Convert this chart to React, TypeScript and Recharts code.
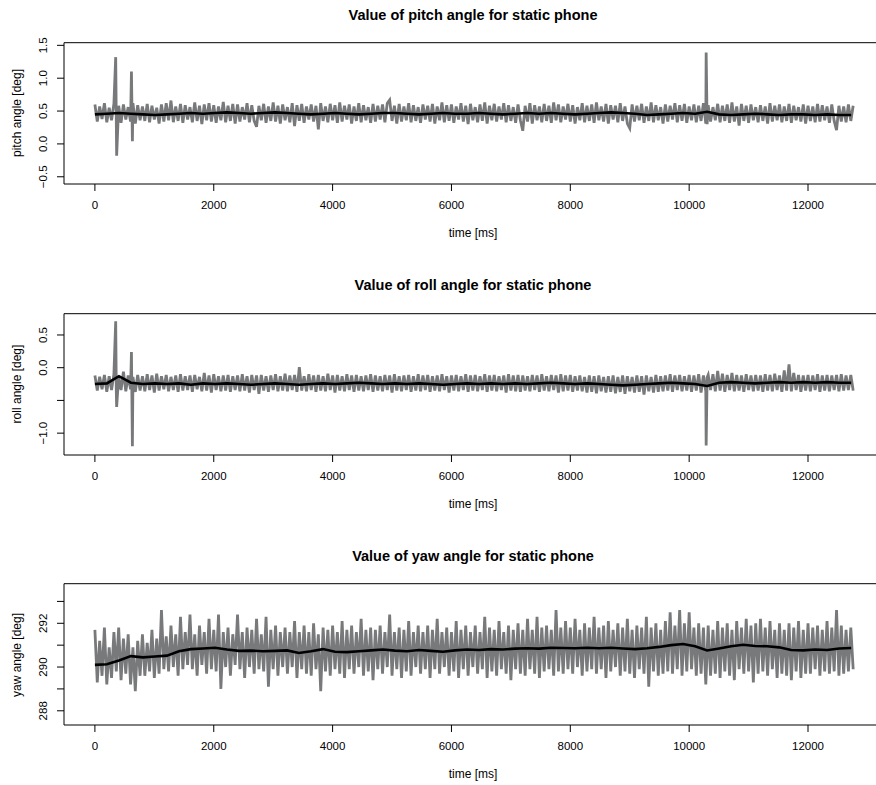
import React from "react";
import { LineChart, Line, XAxis, YAxis, ReferenceArea } from "recharts";

const FONT = '"Liberation Sans", Arial, Helvetica, sans-serif';
const GRAY = "#77797b";

// sample spacing of the hand-read points (ms)
const RAW_STEP = 40;
const SMOOTH_STEP = 202;
const X_TICKS = [0, 2000, 4000, 6000, 8000, 10000, 12000];
const X_DOMAIN = [-520, 13245];

// pitch
const pitchRaw = [
  0.60, 0.34, 0.57, 0.38, 0.62, 0.33, 0.55, 0.36, 0.61, 0.35,
  0.58, 0.32, 0.60, 0.37, 0.56, 0.34, 0.62, 0.31, 0.59, 0.36,
  0.57, 0.35, 0.61, 0.33, 0.58, 0.37, 0.55, 0.31, 0.60, 0.34,
  0.62, 0.36, 0.66, 0.33, 0.57, 0.35, 0.61, 0.32, 0.59, 0.37,
  0.56, 0.33, 0.63, 0.35, 0.58, 0.30, 0.60, 0.36, 0.62, 0.34,
  0.59, 0.32, 0.57, 0.36, 0.64, 0.33, 0.58, 0.35, 0.61, 0.31,
  0.60, 0.34, 0.56, 0.37, 0.62, 0.33, 0.59, 0.35, 0.26, 0.58,
  0.36, 0.61, 0.32, 0.57, 0.35, 0.63, 0.34, 0.58, 0.31, 0.60,
  0.36, 0.56, 0.33, 0.62, 0.27, 0.59, 0.35, 0.61, 0.32, 0.57,
  0.37, 0.60, 0.34, 0.58, 0.22, 0.62, 0.35, 0.57, 0.33, 0.61,
  0.36, 0.59, 0.32, 0.63, 0.34, 0.58, 0.37, 0.60, 0.31, 0.57,
  0.35, 0.62, 0.33, 0.59, 0.36, 0.56, 0.32, 0.61, 0.34, 0.58,
  0.37, 0.60, 0.33, 0.62, 0.67, 0.35, 0.58, 0.31, 0.61, 0.34,
  0.57, 0.36, 0.62, 0.33, 0.59, 0.35, 0.56, 0.32, 0.60, 0.37,
  0.58, 0.34, 0.61, 0.31, 0.57, 0.36, 0.63, 0.33, 0.59, 0.35,
  0.60, 0.32, 0.57, 0.37, 0.62, 0.34, 0.58, 0.30, 0.61, 0.36,
  0.56, 0.33, 0.60, 0.35, 0.63, 0.31, 0.58, 0.36, 0.61, 0.34,
  0.57, 0.37, 0.62, 0.33, 0.59, 0.35, 0.56, 0.32, 0.60, 0.36,
  0.20, 0.58, 0.34, 0.62, 0.31, 0.59, 0.36, 0.57, 0.33, 0.61,
  0.35, 0.58, 0.32, 0.63, 0.36, 0.60, 0.33, 0.57, 0.37, 0.61,
  0.34, 0.59, 0.31, 0.56, 0.36, 0.62, 0.33, 0.58, 0.35, 0.60,
  0.32, 0.63, 0.36, 0.57, 0.34, 0.61, 0.31, 0.59, 0.37, 0.58,
  0.33, 0.62, 0.35, 0.57, 0.31, 0.24, 0.60, 0.34, 0.58, 0.36,
  0.61, 0.32, 0.57, 0.35, 0.63, 0.33, 0.59, 0.36, 0.56, 0.31,
  0.60, 0.34, 0.58, 0.37, 0.62, 0.33, 0.59, 0.35, 0.61, 0.32,
  0.57, 0.36, 0.60, 0.33, 0.58, 0.35, 0.62, 0.31, 0.59, 0.34,
  0.56, 0.36, 0.61, 0.33, 0.58, 0.35, 0.60, 0.32, 0.63, 0.34,
  0.57, 0.28, 0.61, 0.35, 0.58, 0.32, 0.60, 0.36, 0.56, 0.33,
  0.59, 0.35, 0.57, 0.31, 0.62, 0.34, 0.58, 0.36, 0.60, 0.33,
  0.57, 0.35, 0.61, 0.32, 0.58, 0.36, 0.56, 0.34, 0.60, 0.31,
  0.58, 0.35, 0.57, 0.33, 0.61, 0.34, 0.59, 0.36, 0.57, 0.32,
  0.60, 0.35, 0.21, 0.58, 0.34, 0.57, 0.33, 0.60, 0.35, 0.58,
];
const pitchSpikes = [
  { t: 350, v: 1.32 }, { t: 366, v: -0.18 },
  { t: 615, v: 1.1 }, { t: 631, v: 0.04 },
  { t: 10286, v: 1.39 }, { t: 10302, v: 0.3 },
];
const pitchSmooth = [
  0.45, 0.46, 0.47, 0.46, 0.45, 0.44, 0.45, 0.46, 0.47, 0.46,
  0.47, 0.48, 0.47, 0.46, 0.47, 0.48, 0.47, 0.46, 0.45, 0.46,
  0.47, 0.46, 0.45, 0.46, 0.47, 0.47, 0.46, 0.45, 0.46, 0.47,
  0.46, 0.46, 0.47, 0.46, 0.45, 0.46, 0.47, 0.46, 0.47, 0.46,
  0.45, 0.46, 0.47, 0.48, 0.47, 0.46, 0.44, 0.45, 0.46, 0.47,
  0.46, 0.49, 0.45, 0.44, 0.45, 0.46, 0.45, 0.44, 0.45, 0.45,
  0.44, 0.45, 0.44, 0.44,
];
const pitchTicks = [-0.5, 0, 0.5, 1, 1.5];
const pitchTickLabels = ["\u22120.5", "0.0", "0.5", "1.0", "1.5"];

// roll
const rollRaw = [
  -0.12, -0.35, -0.14, -0.33, -0.11, -0.37, -0.13, -0.34, -0.10, -0.36,
  -0.13, -0.34, -0.06, -0.36, -0.12, -0.33, -0.14, -0.37, -0.11, -0.35,
  -0.13, -0.36, -0.10, -0.34, -0.12, -0.38, -0.09, -0.35, -0.13, -0.33,
  -0.11, -0.36, -0.14, -0.34, -0.12, -0.37, -0.10, -0.35, -0.13, -0.34,
  -0.12, -0.37, -0.11, -0.33, -0.14, -0.36, -0.08, -0.35, -0.12, -0.38,
  -0.10, -0.34, -0.13, -0.36, -0.12, -0.35, -0.11, -0.37, -0.13, -0.34,
  -0.12, -0.36, -0.10, -0.35, -0.13, -0.38, -0.11, -0.34, -0.12, -0.40,
  -0.11, -0.35, -0.13, -0.37, -0.12, -0.34, -0.10, -0.36, -0.13, -0.35,
  -0.09, -0.36, -0.12, -0.34, -0.11, -0.37, 0.01, -0.35, -0.13, -0.36,
  -0.10, -0.34, -0.12, -0.37, -0.11, -0.35, -0.13, -0.36, -0.09, -0.34,
  -0.12, -0.38, -0.11, -0.35, -0.13, -0.36, -0.10, -0.34, -0.12, -0.37,
  -0.11, -0.35, -0.13, -0.36, -0.12, -0.34, -0.10, -0.37, -0.12, -0.35,
  -0.13, -0.36, -0.11, -0.34, -0.12, -0.38, -0.10, -0.35, -0.13, -0.36,
  -0.12, -0.34, -0.11, -0.37, -0.13, -0.35, -0.10, -0.36, -0.12, -0.34,
  -0.11, -0.37, -0.13, -0.35, -0.12, -0.36, -0.10, -0.34, -0.13, -0.38,
  -0.12, -0.35, -0.11, -0.36, -0.13, -0.34, -0.10, -0.37, -0.12, -0.35,
  -0.11, -0.36, -0.13, -0.34, -0.10, -0.37, -0.12, -0.35, -0.11, -0.36,
  -0.13, -0.34, -0.12, -0.38, -0.10, -0.35, -0.12, -0.36, -0.11, -0.37,
  -0.12, -0.35, -0.13, -0.36, -0.11, -0.34, -0.12, -0.37, -0.10, -0.35,
  -0.13, -0.36, -0.11, -0.34, -0.12, -0.38, -0.10, -0.36, -0.12, -0.35,
  -0.11, -0.37, -0.13, -0.35, -0.12, -0.36, -0.14, -0.38, -0.12, -0.37,
  -0.13, -0.39, -0.12, -0.36, -0.14, -0.38, -0.13, -0.37, -0.12, -0.39,
  -0.14, -0.37, -0.12, -0.40, -0.13, -0.36, -0.14, -0.38, -0.12, -0.37,
  -0.13, -0.41, -0.12, -0.36, -0.14, -0.38, -0.11, -0.37, -0.13, -0.36,
  -0.12, -0.35, -0.10, -0.37, -0.12, -0.34, -0.11, -0.36, -0.13, -0.35,
  -0.11, -0.37, -0.12, -0.35, -0.10, -0.38, -0.12, -0.36, -0.11, -0.34,
  -0.10, -0.36, -0.05, -0.35, -0.09, -0.37, -0.11, -0.34, -0.08, -0.36,
  -0.11, -0.35, -0.12, -0.37, -0.10, -0.34, -0.12, -0.36, -0.11, -0.35,
  -0.12, -0.37, -0.10, -0.35, -0.11, -0.36, -0.09, -0.34, -0.12, -0.37,
  -0.04, -0.35, 0.05, -0.36, -0.08, -0.34, -0.11, -0.37, -0.12, -0.35,
  -0.11, -0.36, -0.12, -0.34, -0.10, -0.37, -0.12, -0.35, -0.11, -0.36,
  -0.12, -0.34, -0.11, -0.36, -0.10, -0.35, -0.12, -0.34, -0.11, -0.35,
];
const rollSpikes = [
  { t: 350, v: 0.71 }, { t: 366, v: -0.6 },
  { t: 615, v: 0.24 }, { t: 631, v: -1.2 },
  { t: 10286, v: -1.19 }, { t: 10302, v: -0.15 },
];
const rollSmooth = [
  -0.25, -0.24, -0.13, -0.23, -0.25, -0.24, -0.25, -0.24, -0.26, -0.24,
  -0.25, -0.24, -0.25, -0.26, -0.25, -0.24, -0.25, -0.26, -0.25, -0.24,
  -0.25, -0.24, -0.23, -0.24, -0.25, -0.24, -0.25, -0.24, -0.25, -0.26,
  -0.25, -0.24, -0.25, -0.24, -0.25, -0.24, -0.25, -0.24, -0.23, -0.24,
  -0.25, -0.24, -0.25, -0.26, -0.27, -0.26, -0.25, -0.24, -0.23, -0.24,
  -0.25, -0.28, -0.23, -0.22, -0.23, -0.24, -0.23, -0.22, -0.23, -0.22,
  -0.23, -0.22, -0.23, -0.23,
];
const rollTicks = [-1, -0.5, 0, 0.5];
const rollTickLabels = ["\u22121.0", "", "0.0", "0.5"];

// yaw
const yawRaw = [
  291.7, 289.3, 291.2, 289.6, 291.8, 289.2, 290.9, 289.5, 291.6, 289.8,
  291.8, 289.4, 291.3, 289.7, 291.5, 289.2, 290.9, 288.9, 291.2, 289.6,
  291.5, 289.6, 291.1, 289.8, 291.7, 289.5, 291.3, 289.7, 292.6, 289.9,
  291.4, 289.8, 291.9, 290.0, 291.5, 289.6, 292.3, 289.9, 291.6, 290.1,
  292.4, 289.9, 291.5, 289.6, 291.9, 290.1, 291.6, 289.7, 292.2, 289.9,
  291.7, 289.8, 292.4, 289.0, 291.6, 290.0, 291.8, 289.6, 291.5, 290.1,
  292.4, 289.9, 291.6, 289.5, 291.8, 290.0, 291.7, 289.7, 292.2, 289.9,
  291.5, 289.8, 292.3, 289.1, 291.7, 289.9, 291.9, 289.6, 291.6, 290.0,
  291.8, 289.7, 291.6, 290.0, 292.1, 289.5, 291.6, 289.9, 291.9, 289.7,
  291.6, 289.6, 292.0, 289.9, 291.5, 288.9, 291.8, 289.8, 291.7, 289.6,
  291.9, 289.9, 291.6, 289.7, 292.1, 289.5, 291.7, 289.9, 291.9, 289.7,
  291.6, 290.0, 292.2, 289.6, 291.7, 289.8, 291.8, 289.4, 291.7, 289.9,
  291.9, 289.7, 291.6, 290.0, 292.4, 289.6, 291.6, 289.9, 291.8, 289.5,
  291.7, 289.8, 292.1, 289.6, 291.6, 290.0, 291.9, 289.7, 291.6, 289.9,
  291.9, 289.5, 291.7, 289.9, 292.2, 289.7, 291.6, 290.0, 291.8, 289.6,
  291.6, 289.8, 292.1, 289.5, 291.7, 289.9, 291.9, 289.6, 291.6, 290.0,
  291.9, 289.7, 291.6, 289.9, 292.3, 289.5, 291.8, 289.8, 291.7, 289.6,
  292.1, 289.9, 291.6, 289.7, 291.9, 289.4, 291.7, 289.9, 292.0, 289.7,
  291.7, 289.6, 292.2, 289.9, 291.7, 289.7, 292.3, 289.5, 291.8, 289.8,
  291.9, 289.9, 291.7, 289.6, 292.6, 289.8, 291.8, 289.7, 292.1, 289.9,
  291.8, 289.7, 292.2, 290.0, 291.7, 289.6, 292.0, 289.8, 291.8, 289.9,
  292.3, 289.7, 291.8, 289.9, 291.9, 289.5, 292.1, 289.8, 291.7, 290.0,
  292.0, 289.6, 291.8, 289.8, 292.2, 289.7, 291.7, 289.5, 291.9, 289.9,
  291.8, 289.7, 292.3, 289.1, 291.8, 289.8, 292.0, 289.6, 291.7, 289.7,
  292.1, 289.8, 292.5, 289.7, 291.9, 289.9, 292.6, 289.6, 292.0, 289.8,
  292.5, 289.9, 291.8, 289.6, 292.0, 289.7, 291.8, 289.2, 291.9, 289.6,
  291.7, 289.7, 292.1, 289.5, 291.8, 289.8, 292.0, 289.6, 291.7, 289.4,
  292.1, 289.9, 291.8, 289.7, 292.2, 289.8, 291.9, 289.3, 292.0, 289.7,
  292.2, 289.8, 291.8, 289.6, 292.1, 289.9, 291.7, 289.5, 292.0, 289.7,
  291.7, 289.6, 292.0, 289.4, 291.8, 289.8, 292.1, 289.5, 291.7, 289.7,
  292.0, 289.7, 291.8, 289.9, 291.9, 289.6, 291.7, 289.8, 292.1, 289.7,
  291.8, 289.8, 292.6, 289.6, 291.9, 289.7, 291.7, 289.8, 291.8, 289.9,
];
const yawSmooth = [
  290.10, 290.13, 290.30, 290.50, 290.44, 290.48, 290.52, 290.72, 290.82, 290.85,
  290.88, 290.80, 290.74, 290.75, 290.72, 290.74, 290.76, 290.64, 290.72, 290.82,
  290.70, 290.68, 290.72, 290.76, 290.80, 290.75, 290.72, 290.78, 290.74, 290.70,
  290.76, 290.80, 290.78, 290.82, 290.80, 290.84, 290.86, 290.84, 290.88, 290.87,
  290.86, 290.88, 290.86, 290.88, 290.85, 290.82, 290.86, 290.92, 291.00, 291.05,
  290.95, 290.76, 290.85, 290.95, 291.02, 290.96, 290.95, 290.90, 290.78, 290.76,
  290.80, 290.78, 290.85, 290.87,
];
const yawTicks = [288, 289, 290, 291, 292, 293];
const yawTickLabels = ["288", "", "290", "", "292", ""];

type Pt = { t: number; v: number };

function toSeries(values: number[], step: number, extra: Pt[] = []): Pt[] {
  const pts = values.map((v, i) => ({ t: i * step, v }));
  return [...pts, ...extra].sort((a, b) => a.t - b.t);
}

const PANEL_GAP = 270.67;
const CHART_W = 900;
const CHART_H = 270;

function Panel({ top, title, yLabel, raw, smooth, yDomain, yTicks, yTickLabels }: any) {
  const yTick = (props: any) => {
    const { x, y, payload } = props;
    const label = yTickLabels[yTicks.indexOf(payload.value)] ?? "";
    return (
      <text
        x={x}
        y={y}
        transform={`rotate(-90, ${x}, ${y})`}
        textAnchor="middle"
        fontSize={11.5}
        fontFamily={FONT}
        fill="#000"
      >
        {label}
      </text>
    );
  };
  return (
    <div style={{ position: "absolute", left: 0, top, width: CHART_W, height: CHART_H }}>
      <div
        style={{
          position: "absolute", left: 64, width: 818, top: 6.5, textAlign: "center",
          fontFamily: FONT, fontWeight: "bold", fontSize: 14.5, lineHeight: "17px",
        }}
      >
        {title}
      </div>
      <div
        style={{
          position: "absolute", left: 64, width: 818, top: 226, textAlign: "center",
          fontFamily: FONT, fontSize: 12, lineHeight: "14px",
        }}
      >
        time [ms]
      </div>
      <div
        style={{
          position: "absolute", left: 17 - 100, top: 113.4 - 7, width: 200, textAlign: "center",
          fontFamily: FONT, fontSize: 12, lineHeight: "14px", transform: "rotate(-90deg)",
        }}
      >
        {yLabel}
      </div>
      <LineChart width={CHART_W} height={CHART_H} margin={{ top: 42.7, right: 18, bottom: 0, left: 0 }}>
        <XAxis
          type="number"
          dataKey="t"
          domain={X_DOMAIN}
          ticks={X_TICKS}
          allowDataOverflow
          axisLine={false}
          tickLine={{ stroke: "#000" }}
          tickSize={7}
          tickMargin={10}
          height={86}
          tick={{ fontSize: 11.5, fontFamily: FONT, fill: "#000" }}
          interval={0}
        />
        <YAxis
          type="number"
          dataKey="v"
          domain={yDomain}
          ticks={yTicks}
          allowDataOverflow
          axisLine={false}
          tickLine={{ stroke: "#000" }}
          tickSize={7}
          tickMargin={10}
          width={64}
          tick={yTick}
          interval={0}
        />
        <Line
          data={raw}
          dataKey="v"
          stroke={GRAY}
          strokeWidth={2.8}
          dot={false}
          isAnimationActive={false}
          type="linear"
        />
        <Line
          data={smooth}
          dataKey="v"
          stroke="#000"
          strokeWidth={2.6}
          dot={false}
          isAnimationActive={false}
          type="linear"
        />
        <ReferenceArea
          x1={X_DOMAIN[0]}
          x2={X_DOMAIN[1]}
          y1={yDomain[0]}
          y2={yDomain[1]}
          fill="none"
          stroke="#000"
          strokeWidth={1}
          ifOverflow="visible"
        />
      </LineChart>
    </div>
  );
}

export default function App() {
  return (
    <div
      style={{
        position: "absolute", left: 0, top: 0, width: 876, height: 785,
        overflow: "hidden", background: "#fff",
      }}
    >
      <Panel
        top={0}
        title="Value of pitch angle for static phone"
        yLabel="pitch angle [deg]"
        raw={toSeries(pitchRaw, RAW_STEP, pitchSpikes)}
        smooth={toSeries(pitchSmooth, SMOOTH_STEP)}
        yDomain={[-0.61, 1.54]}
        yTicks={pitchTicks}
        yTickLabels={pitchTickLabels}
      />
      <Panel
        top={PANEL_GAP}
        title="Value of roll angle for static phone"
        yLabel="roll angle [deg]"
        raw={toSeries(rollRaw, RAW_STEP, rollSpikes)}
        smooth={toSeries(rollSmooth, SMOOTH_STEP)}
        yDomain={[-1.334, 0.825]}
        yTicks={rollTicks}
        yTickLabels={rollTickLabels}
      />
      <Panel
        top={PANEL_GAP * 2}
        title="Value of yaw angle for static phone"
        yLabel="yaw angle [deg]"
        raw={toSeries(yawRaw, RAW_STEP)}
        smooth={toSeries(yawSmooth, SMOOTH_STEP)}
        yDomain={[287.35, 293.81]}
        yTicks={yawTicks}
        yTickLabels={yawTickLabels}
      />
    </div>
  );
}
